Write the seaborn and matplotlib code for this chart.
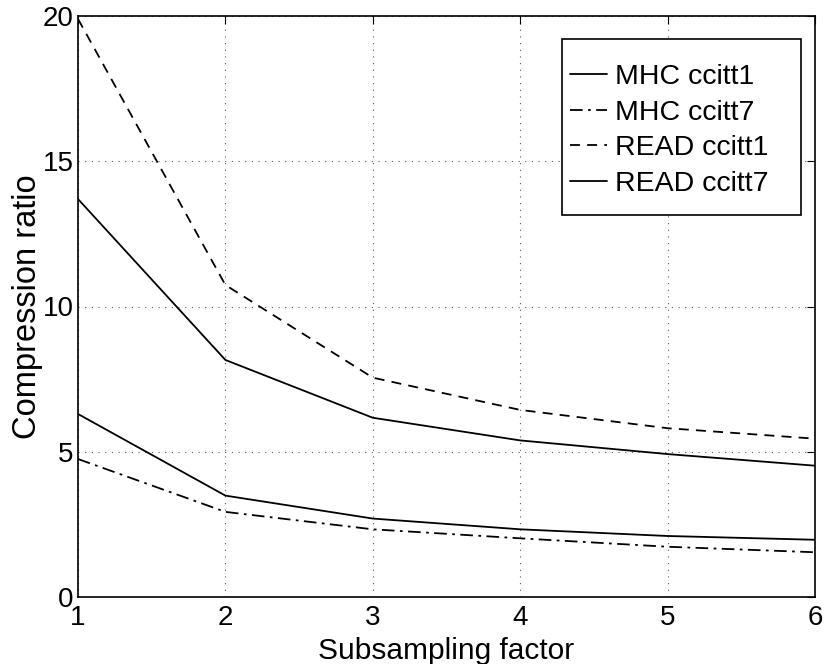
import matplotlib
matplotlib.use("Agg")
import matplotlib.pyplot as plt
from matplotlib.patches import Rectangle
import seaborn as sns
import pandas as pd

factors = [1, 2, 3, 4, 5, 6]
mhc_ccitt1 = [13.70, 8.16, 6.17, 5.39, 4.92, 4.52]
mhc_ccitt7 = [4.75, 2.93, 2.33, 2.02, 1.73, 1.54]
read_ccitt1 = [19.9, 10.74, 7.55, 6.44, 5.81, 5.45]
read_ccitt7 = [6.30, 3.49, 2.70, 2.33, 2.10, 1.97]
series_names = ["MHC ccitt1", "MHC ccitt7", "READ ccitt1", "READ ccitt7"]
x_ticks = [1, 2, 3, 4, 5, 6]
y_ticks = [0, 5, 10, 15, 20]

sns.set_style("white")
plt.rcParams['font.family'] = ['Liberation Sans', 'DejaVu Sans']
for key in ['text.color', 'axes.labelcolor', 'xtick.color', 'ytick.color']:
    plt.rcParams[key] = 'black'

W, H = 825, 664
L, R, T, B = 78, 815, 16, 597
fig = plt.figure(figsize=(W / 100, H / 100), dpi=100)
ax = fig.add_axes([L / W, (H - B) / H, (R - L) / W, (B - T) / H])

series = [mhc_ccitt1, mhc_ccitt7, read_ccitt1, read_ccitt7]
styles = ['-', (0, (7, 3, 1.5, 3)), (0, (5.5, 4)), '-']
for name, vals, ls in zip(series_names, series, styles):
    df = pd.DataFrame({"x": factors, "y": vals})
    sns.lineplot(data=df, x="x", y="y", ax=ax, color="black", linewidth=1.3,
                 linestyle=ls, label=name)

ax.set_xlim(1, 6)
ax.set_ylim(0, 20)
ax.set_xticks(x_ticks)
ax.set_yticks(y_ticks)
ax.set_xlabel("Subsampling factor", fontsize=21.5, labelpad=4)
ax.set_ylabel("Compression ratio", fontsize=23.5, labelpad=0)
ax.tick_params(axis='both', labelsize=20, direction='in', length=6, width=0.8,
               top=True, right=True, colors='black')
ax.tick_params(axis='x', pad=6)
ax.tick_params(axis='y', pad=3)
ax.grid(True, linestyle=(0, (1, 5)), color='#555555', linewidth=0.8)
for s in ax.spines.values():
    s.set_linewidth(1.2)
    s.set_color('black')

def px_to_ax(x, y):
    return (x - L) / (R - L), (B - y) / (B - T)

# legend box (MATLAB-style, wider than its content)
bx0, by0 = px_to_ax(562, 215)
bx1, by1 = px_to_ax(801, 39)
ax.add_patch(Rectangle((bx0, by0), bx1 - bx0, by1 - by0, transform=ax.transAxes,
                       facecolor='white', edgecolor='black', linewidth=1.2,
                       zorder=4))

leg = ax.legend(loc='upper left', bbox_to_anchor=px_to_ax(570, 64),
                fontsize=20.5, frameon=False,
                handlelength=1.3, handletextpad=0.28, labelspacing=0.34,
                borderpad=0, borderaxespad=0)
leg.set_zorder(5)
for t in leg.get_texts():
    t.set_color('black')

fig.savefig("out.png", dpi=100)
